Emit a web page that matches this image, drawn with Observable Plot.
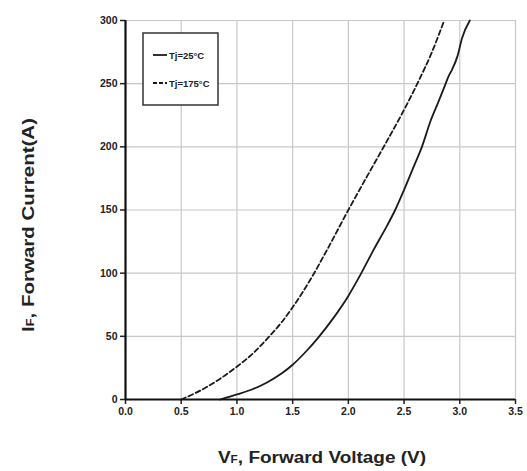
<!DOCTYPE html>
<html>
<head>
<meta charset="utf-8">
<script src="https://cdn.jsdelivr.net/npm/d3@7"></script>
<script src="https://cdn.jsdelivr.net/npm/@observablehq/plot@0.6"></script>
<style>
  html, body { margin: 0; padding: 0; background: #fff; }
  #chart { width: 527px; height: 471px; }
</style>
</head>
<body>
<div id="chart"></div>
<script>
// Forward characteristics, Tj = 25 °C (solid)
const vf25 = [0.85, 1.00, 1.15, 1.27, 1.40, 1.50, 1.62, 1.73, 1.87, 2.00, 2.11, 2.23, 2.35, 2.42, 2.50, 2.58, 2.66, 2.74, 2.81, 2.86, 2.90, 2.93, 2.98, 3.02, 3.09];
const if25 = [0, 4, 8.5, 13.5, 20.5, 27.5, 38, 49, 65, 82, 99, 119, 138, 150, 166, 183, 200, 221, 236, 247, 256, 261, 272, 286, 300];

// Forward characteristics, Tj = 175 °C (dashed)
const vf175 = [0.50, 0.67, 0.85, 1.00, 1.15, 1.27, 1.40, 1.50, 1.66, 1.80, 2.00, 2.17, 2.33, 2.48, 2.63, 2.75, 2.86];
const if175 = [0, 7, 16.5, 26, 37, 48, 61, 73, 95, 117, 150, 177, 202, 226, 252, 275, 300];

const xTicks = [0, 0.5, 1.0, 1.5, 2.0, 2.5, 3.0, 3.5];
const yTicks = [0, 50, 100, 150, 200, 250, 300];
const legendLabels = ["Tj=25°C", "Tj=175°C"];

const s25 = vf25.map((v, i) => ({v, i: if25[i]}));
const s175 = vf175.map((v, i) => ({v, i: if175[i]}));

const W = 527, H = 471;
const M = {left: 125, right: 12, top: 20, bottom: 72};
const tickFont = "'Liberation Sans Narrow', 'Liberation Sans', sans-serif";

const plot = Plot.plot({
  width: W,
  height: H,
  marginLeft: M.left,
  marginRight: M.right,
  marginTop: M.top,
  marginBottom: M.bottom,
  style: {fontFamily: tickFont, fontSize: "10.5px", fontWeight: "bold", background: "#fff", color: "#222"},
  x: {domain: [0, 3.5], label: null},
  y: {domain: [0, 300], label: null},
  marks: [
    Plot.gridX(xTicks, {stroke: "#c8c8c8", strokeOpacity: 1, strokeWidth: 1.2}),
    Plot.gridY(yTicks, {stroke: "#c8c8c8", strokeOpacity: 1, strokeWidth: 1.2}),
    Plot.line(s175, {x: "v", y: "i", stroke: "#1a1a1a", strokeWidth: 1.8, strokeDasharray: "5,3", curve: "monotone-x"}),
    Plot.line(s25, {x: "v", y: "i", stroke: "#1a1a1a", strokeWidth: 1.8, curve: "monotone-x"}),
    Plot.axisX({ticks: xTicks, tickFormat: d3.format(".1f"), tickSize: 5, tickPadding: 3, strokeWidth: 1.5, label: null}),
    Plot.axisY({ticks: yTicks, tickSize: 5, tickPadding: 3, strokeWidth: 1.5, label: null}),
    Plot.ruleY([0], {stroke: "#111", strokeWidth: 2.2}),
    Plot.ruleX([0], {stroke: "#111", strokeWidth: 2.2})
  ]
});

document.getElementById("chart").appendChild(plot);

// Axis titles with subscripts, and the legend box
const svg = d3.select(plot);
const titleFont = "'Liberation Sans', Arial, sans-serif";

const xt = svg.append("text")
  .attr("x", 322).attr("y", 463)
  .attr("text-anchor", "middle")
  .attr("font-family", titleFont).attr("font-size", 16).attr("font-weight", "bold")
  .attr("fill", "#222")
  .attr("textLength", 208).attr("lengthAdjust", "spacingAndGlyphs");
xt.append("tspan").text("V");
xt.append("tspan").attr("font-size", 10).text("F");
xt.append("tspan").text(", Forward Voltage (V)");

const yt = svg.append("text")
  .attr("transform", "translate(34,225) rotate(-90)")
  .attr("text-anchor", "middle")
  .attr("font-family", titleFont).attr("font-size", 16).attr("font-weight", "bold")
  .attr("fill", "#222")
  .attr("textLength", 214).attr("lengthAdjust", "spacingAndGlyphs");
yt.append("tspan").text("I");
yt.append("tspan").attr("font-size", 10).text("F");
yt.append("tspan").text(", Forward Current(A)");

const lg = svg.append("g").attr("transform", "translate(143,33)");
lg.append("rect").attr("width", 75).attr("height", 72)
  .attr("fill", "#fff").attr("stroke", "#333").attr("stroke-width", 1.5);
const styles = [null, "4,2"];
legendLabels.forEach((lab, k) => {
  const y = 22 + k * 28;
  lg.append("line").attr("x1", 10).attr("x2", 24).attr("y1", y).attr("y2", y)
    .attr("stroke", "#1a1a1a").attr("stroke-width", 1.8)
    .attr("stroke-dasharray", styles[k]);
  lg.append("text").attr("x", 26).attr("y", y + 3.5)
    .attr("text-anchor", "start")
    .attr("font-family", tickFont).attr("font-size", 9.5).attr("font-weight", "bold")
    .attr("fill", "#222").text(lab);
});
</script>
</body>
</html>
